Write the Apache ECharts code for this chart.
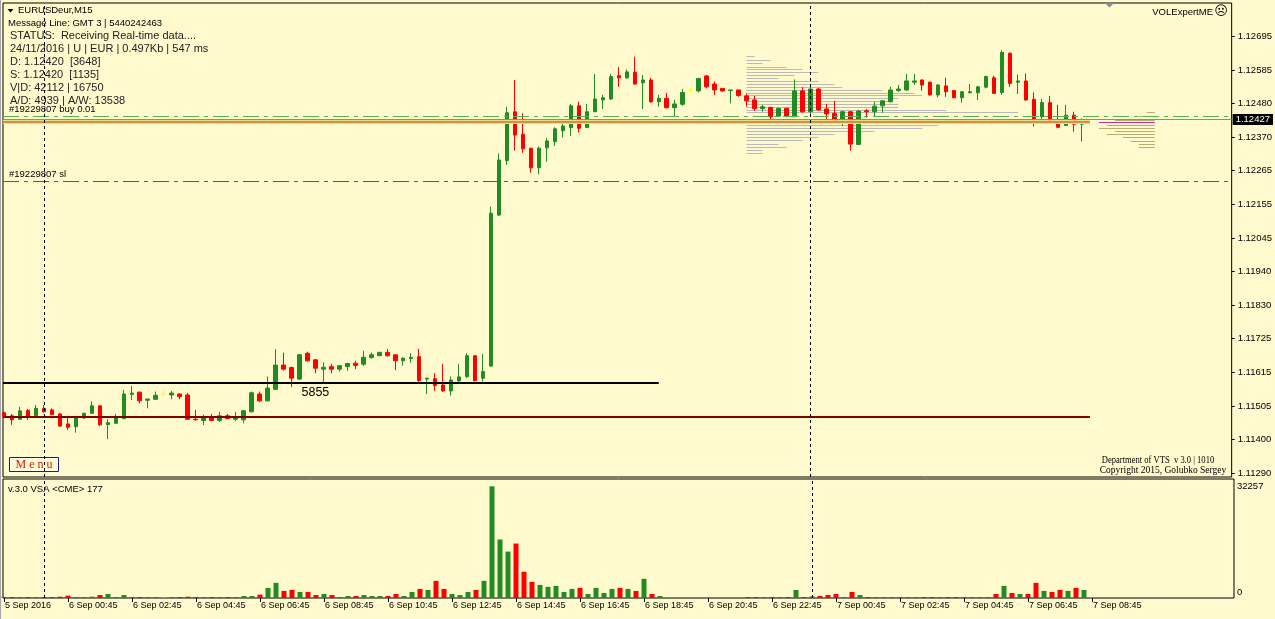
<!DOCTYPE html>
<html><head><meta charset="utf-8">
<script src="https://cdn.jsdelivr.net/npm/echarts@6.0.0/dist/echarts.min.js"></script>
<style>html,body{margin:0;padding:0;background:#FFFACD;}#c{width:1275px;height:619px;}</style>
</head><body><div id="c"></div>
<script>
// ---- data (prices in points of 0.00001) ----
const timeTickLabels = ["5 Sep 2016","6 Sep 00:45","6 Sep 02:45","6 Sep 04:45","6 Sep 06:45","6 Sep 08:45","6 Sep 10:45","6 Sep 12:45","6 Sep 14:45","6 Sep 16:45","6 Sep 18:45","6 Sep 20:45","6 Sep 22:45","7 Sep 00:45","7 Sep 02:45","7 Sep 04:45","7 Sep 06:45","7 Sep 08:45"];
const barsPerTick = 8;
const priceTicks = [1.12695,1.12585,1.12480,1.12370,1.12265,1.12155,1.12045,1.11940,1.11830,1.11725,1.11615,1.11505,1.11400,1.11290];
const volumeTicks = [0, 32257];
const opens = [111485,111475,111464,111492,111475,111499,111494,111481,111449,111440,
111468,111483,111507,111447,111451,111466,111544,111551,111525,111528,
111545,111542,111545,111542,111464,111460,111472,111460,111475,111464,
111462,111488,111545,111523,111560,111638,111630,111593,111676,111655,
111625,111633,111625,111633,111644,111641,111662,111668,111679,111671,
111652,111659,111665,111593,111594,111574,111555,111587,111601,111668,
111596,111635,112120,112295,112452,112380,112335,112272,112336,112356,
112391,112401,112471,112401,112452,112490,112493,112568,112561,112579,
112545,112554,112484,112495,112465,112476,112522,112519,112567,112541,
112527,112520,112522,112503,112490,112462,112466,112438,112463,112436,
112519,112452,112525,112461,112447,112429,112452,112347,112455,112452,
112471,112484,112520,112522,112547,112554,112547,112506,112535,112520,
112497,112513,112513,112531,112561,112514,112640,112547,112551,112492,
112436,112481,112422,112408,112441,112412,112427];
const closes = [111472,111462,111491,111472,111499,111488,111479,111442,111438,111470,
111483,111507,111446,111453,111469,111545,111548,111523,111529,111541,
111545,111548,111537,111464,111462,111472,111460,111475,111466,111472,
111491,111549,111523,111564,111638,111625,111596,111671,111652,111628,
111631,111625,111636,111643,111637,111663,111671,111679,111668,111652,
111660,111663,111588,111596,111572,111555,111590,111600,111668,111588,
111617,112126,112297,112449,112377,112333,112272,112335,112358,112397,
112406,112471,112399,112452,112493,112497,112565,112561,112580,112541,
112554,112484,112495,112465,112477,112514,112522,112559,112532,112522,
112519,112522,112504,112487,112462,112468,112436,112463,112438,112519,
112452,112525,112458,112445,112423,112452,112348,112454,112452,112470,
112487,112522,112525,112551,112551,112538,112506,112538,112516,112497,
112516,112516,112532,112565,112511,112643,112543,112551,112490,112420,
112482,112420,112402,112441,112412,112425,112427];
const lows = [111468,111446,111462,111462,111472,111485,111477,111440,111430,111421,
111466,111481,111442,111400,111449,111464,111526,111515,111499,111526,
111535,111528,111528,111462,111460,111445,111458,111455,111464,111458,
111451,111486,111519,111521,111558,111620,111567,111590,111649,111612,
111580,111612,111617,111620,111625,111635,111659,111667,111665,111622,
111636,111646,111580,111545,111555,111552,111540,111577,111596,111585,
111585,111632,112117,112281,112327,112320,112256,112251,112291,112342,
112369,112374,112385,112401,112452,112461,112490,112532,112558,112539,
112461,112481,112468,112463,112436,112471,112513,112514,112527,112506,
112516,112479,112500,112468,112455,112452,112425,112436,112434,112436,
112449,112436,112455,112425,112421,112406,112327,112345,112433,112436,
112449,112482,112516,112520,112538,112520,112504,112498,112500,112495,
112481,112511,112490,112527,112509,112506,112532,112509,112487,112404,
112425,112417,112399,112406,112388,112356,112424];
const highs = [111491,111481,111504,111497,111510,111510,111499,111485,111475,111475,
111485,111521,111509,111464,111481,111558,111571,111553,111529,111553,
111556,111555,111548,111549,111494,111479,111481,111488,111481,111488,
111494,111553,111553,111601,111689,111678,111633,111674,111681,111657,
111647,111642,111638,111645,111652,111684,111678,111679,111690,111671,
111663,111676,111690,111597,111612,111641,111601,111642,111676,111668,
111674,112147,112318,112468,112554,112447,112335,112340,112367,112402,
112422,112477,112484,112477,112573,112506,112573,112595,112588,112629,
112570,112561,112506,112513,112490,112525,112527,112561,112570,112549,
112527,112522,112522,112511,112503,112474,112468,112465,112465,112556,
112531,112532,112529,112477,112487,112455,112454,112458,112461,112484,
112490,112532,112538,112573,112573,112556,112549,112540,112561,112522,
112519,112541,112535,112568,112568,112650,112642,112572,112575,112514,
112493,112503,112474,112474,112452,112431,112430];
const volumes = [194,194,194,194,194,194,194,388,680,291,
194,388,874,1165,97,874,291,97,97,97,
194,97,97,388,97,97,97,97,97,291,
583,583,971,2913,4370,2039,2330,1748,1748,874,
1165,874,291,583,583,874,583,583,583,1165,
583,1748,2622,2330,4952,2622,1165,874,1748,2330,
4952,32257,16895,13400,15730,7574,4661,3787,3204,3496,
1748,2622,2913,1165,2913,1457,2622,2913,2622,2039,
5535,1165,583,null,null,null,null,null,null,null,
null,null,null,291,97,97,97,97,97,2330,
194,485,583,874,1165,194,1748,874,194,194,
194,97,97,194,194,194,50,194,194,50,
194,194,194,194,1165,3496,1457,1165,1165,4370,
2039,1748,2330,2039,2913,2330,97];
// volume profile (VOLExpertME): price level (points) and volume in bar-widths
const profileLeftLevels = [112631,112618,112608,112597,112588,112579,112569,112559,112551,112541,112531,112523,112513,112505,112495,112486,112477,112468,112459,112450,112409,112401,112390,112380,112371,112361,112347,112338,112328,112318];
const profileLeftVol    = [1,3,2,5,7,9,6,4,9,11,12,17,21,22,19,18,19,19,25,34,24,22,16,11,9,7,4,5,2,2];
const profileRightLevels = [112450,112437,112425,112418,112408,112399,112390,112379,112370,112359,112348,112338];
const profileRightVol    = [1,2,5,7,6,7,5,6,4,3,2,2];
const profileRightPoc = 112418;
// horizontal levels (points)
const levelBuy = 112437, levelSl = 112229, levelBid = 112427, levelAvg = 112420, levelBlack = 111581, levelMaroon = 111472;
const blackLineLabel = "5855";
const daySeparators = [5, 101];

// ---- build ----
const P = 1e-5;
const FONT = '"Liberation Sans", Arial, sans-serif';
const BULL = '#228B22', BEAR = '#FF0000', DOJI = '#FFFF00', VIOLET = '#C864D2';
const X_MIN = -0.125, X_MAX = 153.75;
const n = opens.length;
const candleData = [], volData = [];
for (let i = 0; i < n; i++) {
  const it = { value: [i, opens[i] * P, closes[i] * P, lows[i] * P, highs[i] * P] };
  if (opens[i] === closes[i]) it.itemStyle = { color: DOJI, color0: DOJI, borderColor: DOJI, borderColor0: DOJI };
  candleData.push(it);
  if (volumes[i] != null) {
    const c = closes[i] > opens[i] ? BULL : (closes[i] < opens[i] ? BEAR : VIOLET);
    volData.push({ value: [i, volumes[i]], itemStyle: { color: c } });
  }
}
const tickIdx = timeTickLabels.map((_, k) => k * barsPerTick);
const leftProf = profileLeftLevels.map((l, k) => [l * P, profileLeftVol[k]]);
const rightProf = profileRightLevels.map((l, k) => [l * P, profileRightVol[k]]);
const PROF_L_START = 93, PROF_R_END = 144.125;

function hline(a, b) {
  return { type: 'line', shape: { x1: a[0], y1: Math.round(a[1]) + 0.5, x2: b[0], y2: Math.round(b[1]) + 0.5 } };
}
function seg(x0, x1, level, lineStyle, label) {
  return [ { coord: [x0, level * P], lineStyle: lineStyle, label: label || { show: false } }, { coord: [x1, level * P] } ];
}
const dashDot = [16, 5, 4, 5];

const option = {
  backgroundColor: '#FFFACD',
  animation: false,
  grid: [
    { left: 3, right: 41, top: 3, height: 474, show: true, borderColor: '#000', borderWidth: 1, backgroundColor: 'transparent' },
    { left: 3, right: 41, top: 479, height: 119, show: true, borderColor: '#000', borderWidth: 1, backgroundColor: 'transparent' }
  ],
  xAxis: [
    { type: 'value', gridIndex: 0, min: X_MIN, max: X_MAX, axisLine: { show: false, onZero: false }, axisTick: { show: false }, axisLabel: { show: false }, splitLine: { show: false } },
    { type: 'value', gridIndex: 1, min: X_MIN, max: X_MAX, axisLine: { show: false, onZero: false }, splitLine: { show: false },
      axisTick: { show: true, customValues: tickIdx, length: 4, lineStyle: { color: '#000' } },
      axisLabel: { show: true, customValues: tickIdx, formatter: v => timeTickLabels[Math.round(v / barsPerTick)], align: 'left', padding: [0, 0, 0, 1], margin: 3, fontFamily: FONT, fontSize: 9, color: '#000' } }
  ],
  yAxis: [
    { type: 'value', gridIndex: 0, position: 'right', min: 1.112784, max: 1.128014, axisLine: { show: false, onZero: false }, splitLine: { show: false },
      axisTick: { show: true, inside: false, customValues: priceTicks, length: 3, lineStyle: { color: '#000' } },
      axisLabel: { show: true, customValues: priceTicks, formatter: v => v.toFixed(5), margin: 6, fontFamily: FONT, fontSize: 9.5, color: '#000' } },
    { type: 'value', gridIndex: 1, position: 'right', min: 0, max: 34365, axisLine: { show: false, onZero: false }, splitLine: { show: false },
      axisTick: { show: false },
      axisLabel: { show: true, customValues: volumeTicks, margin: 3, fontFamily: FONT, fontSize: 9.5, color: '#000',
        formatter: v => v === 0 ? '{z|0}' : String(v), rich: { z: { padding: [0, 0, 12, 0], fontFamily: FONT, fontSize: 9.5, color: '#000' } } } }
  ],
  series: [
    { type: 'custom', name: 'profileL', xAxisIndex: 0, yAxisIndex: 0, z: 1, silent: true, data: leftProf, encode: { y: 0 },
      renderItem: (params, api) => {
        const p = api.value(0), len = api.value(1);
        const el = hline(api.coord([PROF_L_START, p]), api.coord([PROF_L_START + len, p]));
        el.style = { stroke: '#B9B9B9', lineWidth: 1 };
        return el;
      } },
    { type: 'custom', name: 'profileR', xAxisIndex: 0, yAxisIndex: 0, z: 1, silent: true, data: rightProf, encode: { y: 0 },
      renderItem: (params, api) => {
        const p = api.value(0), len = api.value(1);
        const el = hline(api.coord([PROF_R_END - len, p]), api.coord([PROF_R_END, p]));
        const poc = Math.abs(p - profileRightPoc * P) < 1e-7;
        el.style = { stroke: poc ? '#CC3399' : '#BCAE6A', lineWidth: 1 };
        return el;
      } },
    { type: 'candlestick', name: 'EURUSD', xAxisIndex: 0, yAxisIndex: 0, z: 2, silent: true,
      dimensions: ['idx', 'open', 'close', 'lowest', 'highest'], encode: { x: 0, y: [1, 2, 3, 4] },
      barWidth: 4,
      itemStyle: { color: BULL, color0: BEAR, borderColor: BULL, borderColor0: BEAR, borderWidth: 1 },
      data: candleData },
    { type: 'line', name: 'levels', xAxisIndex: 0, yAxisIndex: 0, z: 5, silent: true, data: [],
      markLine: {
        silent: true, animation: false, symbol: ['none', 'none'],
        label: { show: false },
        data: [
          seg(X_MIN, X_MAX, levelSl, { color: '#D02828', type: dashDot, width: 1 },
            { show: true, position: 'insideStartTop', formatter: '#19229807 sl', distance: [6, 2], fontFamily: FONT, fontSize: 9.5, color: '#000' }),
          seg(X_MIN, X_MAX, levelBid, { color: '#8C8C8C', type: 'solid', width: 1 },
            { show: true, position: 'end', formatter: (levelBid * P).toFixed(5), distance: 1, backgroundColor: '#000', color: '#fff', padding: [1, 3, 0, 3], fontFamily: FONT, fontSize: 9.5 }),
          seg(X_MIN, 136, levelAvg, { color: '#F3D78A', width: 4, type: 'solid' }),
          seg(X_MIN, 136, levelAvg, { color: '#C8963C', width: 2, type: 'solid' }),
          seg(X_MIN, X_MAX, levelBuy, { color: '#52B452', type: dashDot, width: 1 },
            { show: true, position: 'insideStartTop', formatter: '#19229807 buy 0.01', distance: [6, 2], fontFamily: FONT, fontSize: 9.5, color: '#000' }),
          seg(X_MIN, 82, levelBlack, { color: '#000', width: 2, type: 'solid' }),
          seg(X_MIN, 136, levelMaroon, { color: '#800000', width: 2, type: 'solid' }),
          ...daySeparators.map(x => ({ xAxis: x, lineStyle: { color: '#000', type: [3, 3], width: 1 } }))
        ]
      },
      markPoint: {
        silent: true, animation: false, symbol: 'rect', symbolSize: 1, itemStyle: { color: 'rgba(0,0,0,0)' },
        data: [ { coord: [39, levelBlack * P], value: blackLineLabel } ],
        label: { show: true, position: 'bottom', distance: 3, formatter: blackLineLabel, fontFamily: FONT, fontSize: 12.5, color: '#000' }
      } },
    { type: 'bar', name: 'volume', xAxisIndex: 1, yAxisIndex: 1, barWidth: 5, barMinHeight: 1, silent: true, data: volData,
      markLine: { silent: true, animation: false, symbol: ['none', 'none'], label: { show: false },
        data: daySeparators.map(x => ({ xAxis: x, lineStyle: { color: '#000', type: [3, 3], width: 1 } })) } }
  ],
  graphic: [
    { type: 'line', shape: { x1: 0.5, y1: 0, x2: 0.5, y2: 619 }, style: { stroke: '#A8A8A8', lineWidth: 1 }, silent: true },
    { type: 'polygon', shape: { points: [[7.5, 9], [13.5, 9], [10.5, 12.5]] }, style: { fill: '#000' }, silent: true },
    { type: 'text', x: 18, y: 10.5, style: { text: 'EURUSDeur,M15', font: '9.5px ' + FONT, fill: '#000', verticalAlign: 'middle' } },
    { type: 'text', x: 8, y: 23.5, style: { text: 'Message Line: GMT 3 | 5440242463', font: '9.5px ' + FONT, fill: '#000', verticalAlign: 'middle' } },
    { type: 'text', x: 10, y: 36, style: { text: 'STATUS:  Receiving Real-time data....', font: '11px ' + FONT, fill: '#222', verticalAlign: 'middle' } },
    { type: 'text', x: 10, y: 49, style: { text: '24/11/2016 | U | EUR | 0.497Kb | 547 ms', font: '11px ' + FONT, fill: '#222', verticalAlign: 'middle' } },
    { type: 'text', x: 10, y: 62, style: { text: 'D: 1.12420  [3648]', font: '11px ' + FONT, fill: '#222', verticalAlign: 'middle' } },
    { type: 'text', x: 10, y: 74.5, style: { text: 'S: 1.12420  [1135]', font: '11px ' + FONT, fill: '#222', verticalAlign: 'middle' } },
    { type: 'text', x: 10, y: 88, style: { text: 'V|D: 42112 | 16750', font: '11px ' + FONT, fill: '#222', verticalAlign: 'middle' } },
    { type: 'text', x: 10, y: 101, style: { text: 'A/D: 4939 | A/W: 13538', font: '11px ' + FONT, fill: '#222', verticalAlign: 'middle' } },
    { type: 'polygon', shape: { points: [[1105, 3], [1114, 3], [1109.5, 7.5]] }, style: { fill: '#7F8FA0' }, silent: true },
    { type: 'text', x: 1213, y: 12, style: { text: 'VOLExpertME', font: '9.5px ' + FONT, fill: '#000', align: 'right', verticalAlign: 'middle' } },
    { type: 'text', x: 1221, y: 12, style: { text: '\u2639', font: '13px "DejaVu Sans"', fill: '#000', align: 'center', verticalAlign: 'middle' } },
    { type: 'text', x: 1158, y: 460, scaleX: 0.9, style: { text: 'Department of VTS  v 3.0 | 1010', font: '9.5px "Liberation Serif", serif', fill: '#000', align: 'center', verticalAlign: 'middle' } },
    { type: 'text', x: 1163, y: 470.5, style: { text: 'Copyright 2015, Golubko Sergey', font: '9.5px "Liberation Serif", serif', fill: '#000', align: 'center', verticalAlign: 'middle' } },
    { type: 'rect', shape: { x: 9.5, y: 457.5, width: 49, height: 14 }, style: { fill: '#FFFACD', stroke: '#1C1C8C', lineWidth: 1 }, silent: true },
    { type: 'rect', shape: { x: 10.5, y: 458.5, width: 47, height: 12 }, style: { fill: 'none', stroke: '#FFFFFF', lineWidth: 1 }, silent: true },
    { type: 'text', x: 34, y: 465, style: { text: 'M e n u', font: '12px "Liberation Serif", serif', fill: '#C81E1E', align: 'center', verticalAlign: 'middle' } },
    { type: 'text', x: 8, y: 489, style: { text: 'v.3.0 VSA <CME> 177', font: '9.5px ' + FONT, fill: '#000', verticalAlign: 'middle' } }
  ]
};
const chart = echarts.init(document.getElementById('c'), null, { renderer: 'canvas' });
chart.setOption(option);
</script>
</body></html>
